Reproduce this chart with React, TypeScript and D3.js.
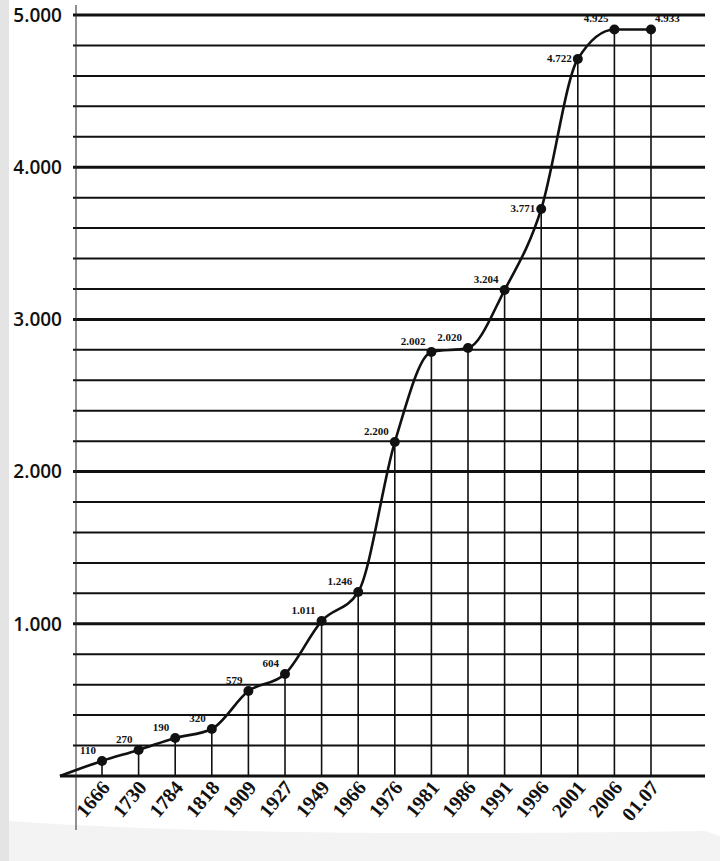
import React from "react";
import * as d3 from "d3";

const categories = ["1666", "1730", "1784", "1818", "1909", "1927", "1949", "1966", "1976", "1981", "1986", "1991", "1996", "2001", "2006", "01.07"];
const values = [99, 171, 250, 309, 558, 670, 1018, 1209, 2194, 2786, 2812, 3193, 3725, 4711, 4905, 4905];
const pointLabels = ["110", "270", "190", "320", "579", "604", "1.011", "1.246", "2.200", "2.002", "2.020", "3.204", "3.771", "4.722", "4.925", "4.933"];
const yTickValues = [0, 1000, 2000, 3000, 4000, 5000];
const yTickLabels = ["", "1.000", "2.000", "3.000", "4.000", "5.000"];
const minorStep = 200;
const yMax = 5000;

export default function App() {
  const W = 720, H = 861;
  const x = d3.scalePoint<string>().domain(categories).range([102, 651]);
  const step = x.step();
  const y = d3.scaleLinear().domain([0, yMax]).range([776, 15]);
  const gridLeft = 73, gridRight = 705, axisX = 76;

  const gridVals = d3.range(0, yMax + 1, minorStep);
  const pts: [number, number][] = [[x(categories[0])! - step * 1.15, y(0)], ...categories.map((c, i) => [x(c)!, y(values[i])] as [number, number])];
  const line = d3.line().curve(d3.curveMonotoneX)(pts) || "";

  return (
    <svg width={W} height={H} style={{ position: "absolute", left: 0, top: 0, display: "block", background: "#fff" }}>
      <rect x={0} y={0} width={W} height={H} fill="#fff" />
      <rect x={0} y={0} width={9} height={H} fill="#e4e4e4" />
      <path d={`M9,${y(0) + 45} Q250,${y(0) + 62} 705,${y(0) + 55} L720,${y(0) + 60} L720,861 L9,861 Z`} fill="#f3f3f3" />
      {/* gridlines */}
      {gridVals.map((v) => (
        <line key={v} x1={v === 0 ? 60 : gridLeft} x2={gridRight} y1={y(v)} y2={y(v)} stroke="#111" strokeWidth={v % 1000 === 0 ? 3 : 2} />
      ))}
      {/* y axis */}
      <line x1={axisX} x2={axisX} y1={5} y2={830} stroke="#222" strokeWidth={1} />
      {yTickValues.map((v, i) => (
        <text key={v} x={62} y={y(v)} dy="0.36em" textAnchor="end" fontFamily="'Open Sans', sans-serif" fontWeight={600} fontSize={19} fill="#111">
          {yTickLabels[i]}
        </text>
      ))}
      {/* drop lines */}
      {categories.map((c, i) => (
        <line key={c} x1={x(c)!} x2={x(c)!} y1={y(values[i])} y2={y(0)} stroke="#111" strokeWidth={1.6} />
      ))}
      {/* curve */}
      <path d={line} fill="none" stroke="#111" strokeWidth={2.6} />
      {categories.map((c, i) => (
        <circle key={c} cx={x(c)!} cy={y(values[i])} r={5} fill="#111" />
      ))}
      {/* point labels */}
      {categories.map((c, i) => {
        const px = x(c)!, py = y(values[i]);
        const last = i === categories.length - 1;
        const level = i === 12 || i === 13;
        return (
          <text key={c} x={last ? px + 4 : px - 6} y={level ? py + 3 : py - 7} textAnchor={last ? "start" : "end"}
            fontFamily="'Liberation Serif', serif" fontWeight="bold" fontSize={11} fill="#111">
            {pointLabels[i]}
          </text>
        );
      })}
      {/* x labels */}
      {categories.map((c) => (
        <text key={c} transform={`translate(${x(c)! + 9},${y(0) + 12}) rotate(-50)`} textAnchor="end"
          fontFamily="'Liberation Serif', serif" fontWeight="bold" fontSize={20} fill="#111">
          {c}
        </text>
      ))}
    </svg>
  );
}
